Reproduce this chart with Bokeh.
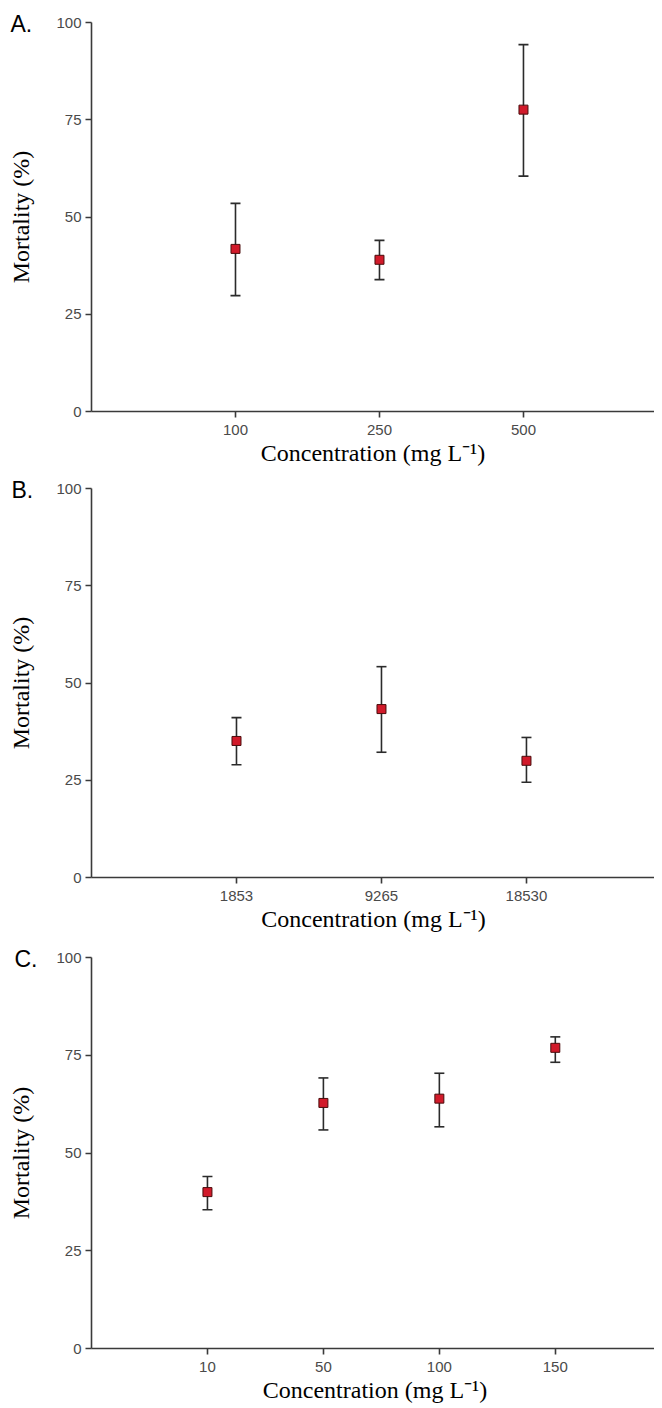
from bokeh.plotting import figure
from bokeh.models import Range1d, FixedTicker, Whisker, TeeHead, ColumnDataSource, Title
from bokeh.layouts import column
from bokeh.embed import file_html
from bokeh.resources import INLINE

# ---- data ----
A_conc = ["100", "250", "500"]
A_mean = [41.8, 39.0, 77.6]
A_upper = [53.5, 44.0, 94.3]
A_lower = [29.8, 33.9, 60.5]

B_conc = ["1853", "9265", "18530"]
B_mean = [35.1, 43.3, 30.0]
B_upper = [41.1, 54.2, 36.0]
B_lower = [29.0, 32.2, 24.5]

C_conc = ["10", "50", "100", "150"]
C_mean = [40.0, 62.8, 63.9, 76.9]
C_upper = [44.0, 69.2, 70.4, 79.7]
C_lower = [35.5, 55.9, 56.7, 73.2]

y_ticks = [0, 25, 50, 75, 100]

X_LABEL = "Concentration (mg L\u207b\u00b9)"
Y_LABEL = "Mortality (%)"


def make_panel(letter, conc, mean, lower, upper, x_end, frame_w, frame_h,
               border_left, border_top, border_bottom):
    xs = list(range(1, len(conc) + 1))
    p = figure(output_backend="svg", toolbar_location=None,
               frame_width=frame_w, frame_height=frame_h,
               x_range=Range1d(0, x_end), y_range=Range1d(0, 100),
               min_border_left=border_left, min_border_right=0,
               min_border_top=border_top, min_border_bottom=border_bottom)
    p.grid.visible = False
    p.outline_line_color = None
    p.background_fill_color = "white"
    p.border_fill_color = "white"

    src = ColumnDataSource(dict(x=xs, mean=mean, lower=lower, upper=upper))
    w = Whisker(source=src, base="x", upper="upper", lower="lower",
                line_color="#2b2b2b", line_width=1.6, level="underlay",
                upper_head=TeeHead(size=10, line_color="#2b2b2b", line_width=1.6),
                lower_head=TeeHead(size=10, line_color="#2b2b2b", line_width=1.6))
    p.add_layout(w)
    p.scatter("x", "mean", source=src, marker="square", size=9,
              fill_color="#d11a2a", line_color="#4a0c0c", line_width=1)

    p.xaxis.ticker = FixedTicker(ticks=xs)
    p.xaxis.major_label_overrides = {x: c for x, c in zip(xs, conc)}
    p.yaxis.ticker = FixedTicker(ticks=y_ticks)

    for ax in (p.xaxis, p.yaxis):
        ax.minor_tick_line_color = None
        ax.major_tick_out = 6
        ax.major_tick_in = 0
        ax.major_tick_line_color = "#3a3a3a"
        ax.major_tick_line_width = 1.6
        ax.axis_line_color = "#3a3a3a"
        ax.axis_line_width = 1.6
        ax.major_label_text_font = "Liberation Sans"
        ax.major_label_text_font_size = "15px"
        ax.major_label_text_color = "#4a4a4a"
        ax.axis_label_text_font = "Liberation Serif"
        ax.axis_label_text_font_size = "24px"
        ax.axis_label_text_font_style = "normal"
        ax.axis_label_text_color = "black"

    p.xaxis.axis_label = X_LABEL
    p.yaxis.axis_label = Y_LABEL
    p.xaxis.major_label_standoff = 7
    p.xaxis.axis_label_standoff = 2
    p.yaxis.major_label_standoff = 4
    p.yaxis.axis_label_standoff = 19

    p.add_layout(Title(text=letter, align="left", offset=-(border_left - 10),
                       text_font="Liberation Sans", text_font_size="23px",
                       text_font_style="normal", text_color="black",
                       standoff=-28, vertical_align="bottom"), "above")
    return p


pA = make_panel("A.", A_conc, A_mean, A_lower, A_upper, 3.91, 563, 389, 91, 22, 60)
pB = make_panel("B.", B_conc, B_mean, B_lower, B_upper, 3.89, 564, 389, 90, 17, 63)
pC = make_panel("C.", C_conc, C_mean, C_lower, C_upper, 4.89, 567, 391, 87, 17, 58)

layout = column(pA, pB, pC, spacing=0)

open("out.html", "w").write(file_html(layout, INLINE))
